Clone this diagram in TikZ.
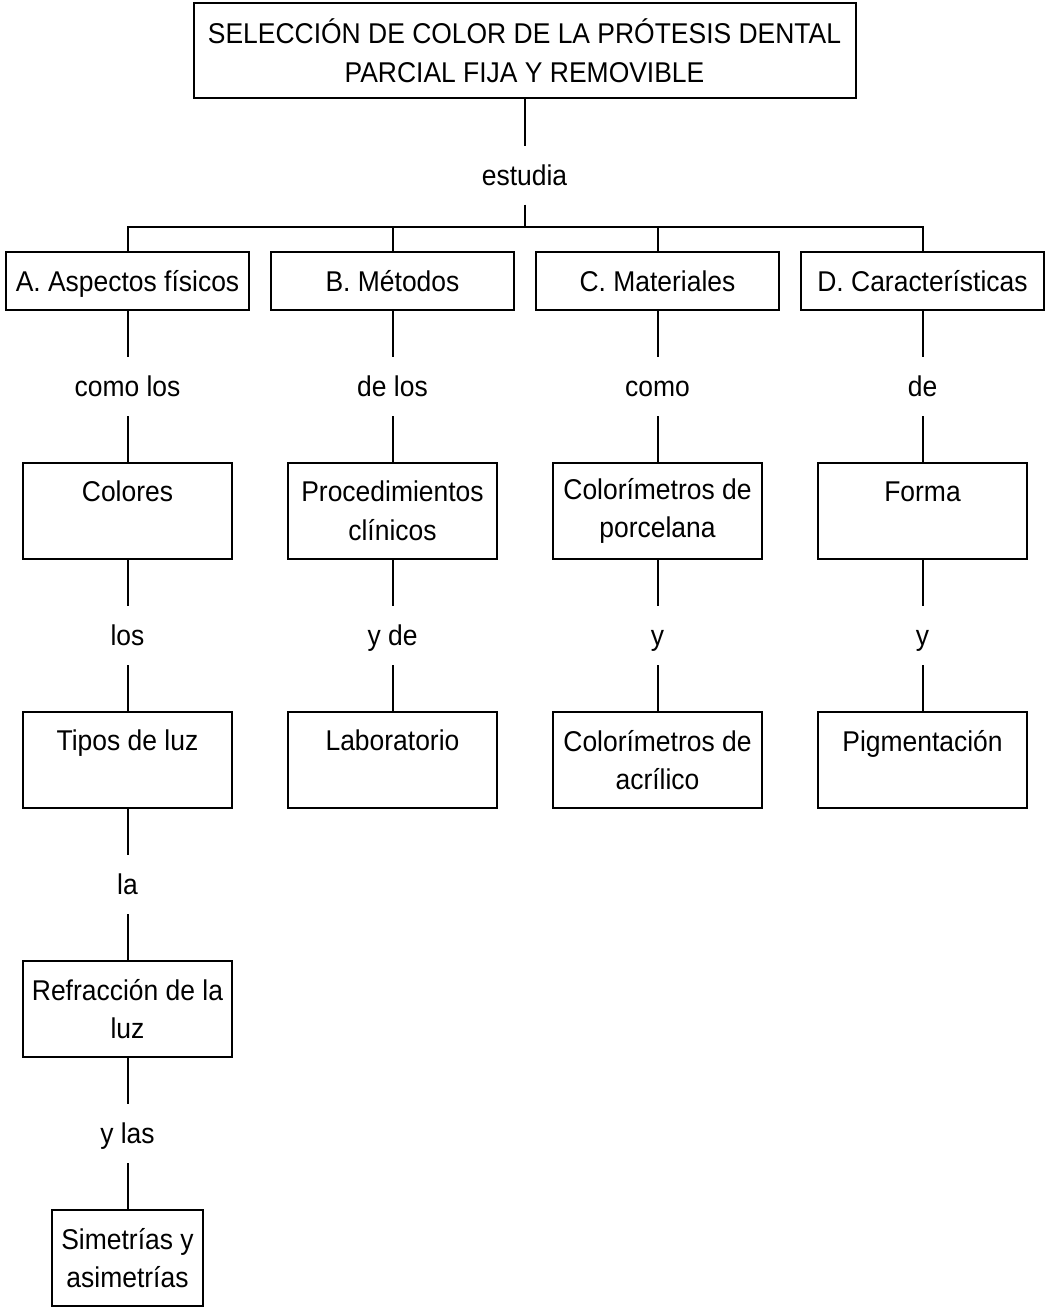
\documentclass[tikz,border=0pt]{standalone}
\usepackage{fontspec}
\setmainfont{Liberation Sans}[FakeStretch=0.925]
\begin{document}
\begin{tikzpicture}[x=0.5pt, y=-0.5pt, line width=1pt,
  caja/.style={draw, align=center, inner sep=0pt, minimum width=104.5pt, minimum height=48pt},
  cabeza/.style={caja, minimum width=121.5pt, minimum height=29pt, text height=10.2pt, text depth=0pt},
  enlace/.style={inner sep=0pt, minimum height=28.5pt, text height=10.2pt, text depth=0pt}]

  \fontsize{14.3}{19.4}\selectfont

  \newcommand\X{265};
  \newcommand\Y{249};

  \useasboundingbox (0,0) rectangle (1048,1314);

  \node[caja, minimum width=331pt, minimum height=47.5pt]
    (titulo) at (524.5, 50.5) {SELECCIÓN DE COLOR DE LA PRÓTESIS DENTAL\\PARCIAL FIJA Y REMOVIBLE};
  \node[enlace] (estudia) at (524.5, 175) {estudia};
  \coordinate (barra) at (524.5, 227);

  % A, B, C, D
  \node[cabeza] (aspectos)   at (127.5+0*\X, 281) {A. Aspectos físicos};
  \node[cabeza] (metodos)    at (127.5+1*\X, 281) {B. Métodos};
  \node[cabeza] (materiales) at (127.5+2*\X, 281) {C. Materiales};
  \node[cabeza] (caract)     at (127.5+3*\X, 281) {D. Características};

  \node[enlace] (comolos) at (127.5+0*\X, 386.5) {como los};
  \node[enlace] (delos)   at (127.5+1*\X, 386.5) {de los};
  \node[enlace] (como)    at (127.5+2*\X, 386.5) {como};
  \node[enlace] (de)      at (127.5+3*\X, 386.5) {de};

  \node[caja] (colores)        at (127.5+0*\X, 511) {Colores\\\mbox{}};
  \node[caja] (procedimientos) at (127.5+1*\X, 511) {Procedimientos\\clínicos};
  \node[caja] (porcelana)      at (127.5+2*\X, 511) {Colorímetros de\\porcelana};
  \node[caja] (forma)          at (127.5+3*\X, 511) {Forma\\\mbox{}};

  \node[enlace] (los) at (127.5+0*\X, 386.5+\Y) {los};
  \node[enlace] (yde) at (127.5+1*\X, 386.5+\Y) {y de};
  \node[enlace] (yc)  at (127.5+2*\X, 386.5+\Y) {y};
  \node[enlace] (yd)  at (127.5+3*\X, 386.5+\Y) {y};

  \node[caja] (tipos)        at (127.5+0*\X, 511+\Y) {Tipos de luz\\\mbox{}};
  \node[caja] (laboratorio)  at (127.5+1*\X, 511+\Y) {Laboratorio\\\mbox{}};
  \node[caja] (acrilico)     at (127.5+2*\X, 511+\Y) {Colorímetros de\\acrílico};
  \node[caja] (pigmentacion) at (127.5+3*\X, 511+\Y) {Pigmentación\\\mbox{}};

  \node[enlace] (la) at (127.5, 386.5+2*\Y) {la};
  \node[caja] (refraccion) at (127.5, 511+2*\Y) {Refracción de la\\luz};
  \node[enlace] (ylas) at (127.5, 386.5+3*\Y) {y las};
  \node[caja, minimum width=75.5pt] (simetrias) at (127.5, 511+3*\Y) {Simetrías y\\asimetrías};

  \draw (titulo) -- (estudia) -- (barra);
  \draw (aspectos.north) |- (barra) -| (caract.north);
  \draw (metodos.north) -- (metodos.north |- barra);
  \draw (materiales.north) -- (materiales.north |- barra);

  \draw (aspectos) -- (comolos) -- (colores); %% A->Colores
  \draw (colores) -- (los) -- (tipos);
  \draw (tipos) -- (la) -- (refraccion);
  \draw (refraccion) -- (ylas) -- (simetrias);
  \draw (metodos) -- (delos) -- (procedimientos); %% B
  \draw (procedimientos) -- (yde) -- (laboratorio);
  \draw (materiales) -- (como) -- (porcelana); %% C
  \draw (porcelana) -- (yc) -- (acrilico);
  \draw (caract) -- (de) -- (forma); %% D
  \draw (forma) -- (yd) -- (pigmentacion);
\end{tikzpicture}
\end{document}
